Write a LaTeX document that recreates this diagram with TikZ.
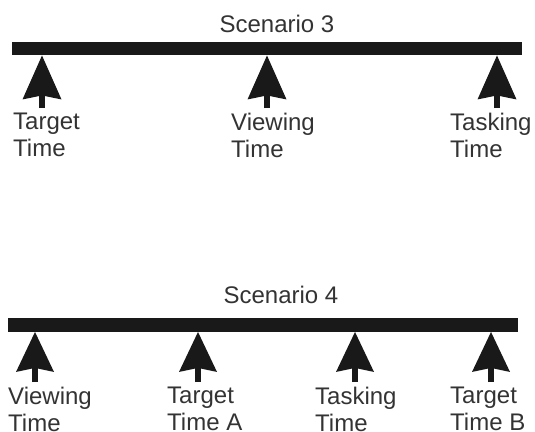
\documentclass[tikz,border=0pt]{standalone}
\usepackage{fontspec}
\setmainfont{Liberation Sans}
\begin{document}
\begin{tikzpicture}[x=1pt,y=-1pt,
  bar/.style={fill=black!90, draw=none, inner sep=0pt, minimum height=13.5pt},
  lbl/.style={anchor=north west, inner sep=0pt, align=left, text=black!80, font=\fontsize{24}{27}\selectfont},
  ttl/.style={anchor=base, inner sep=0pt, text=black!80, font=\fontsize{24}{27}\selectfont},
  stem/.style={draw=black!90, line width=6pt},
  head/.style={fill=black!90}]
\useasboundingbox (0,0) rectangle (535,431);
% Scenario 3
\node[bar, minimum width=510pt] (bar3) at (267,48.5) {};
\node[ttl] (t3) at (277,32) {Scenario 3};
\foreach \n/\x in {s1/42,s2/267,s3/497}{
  \coordinate (\n) at (\x,108);
  \coordinate (\n tip) at (\n |- bar3.south);
  \draw[stem] (\n) -- ([yshift=-30pt]\n tip);
  \fill[head] (\n tip) -- ++(19.5,44) -- ++(-19.5,-4) -- ++(-19.5,4) -- cycle;
}
\node[lbl] (l1) at (13,113) {Target\\Time};
\node[lbl] (l2) at (231,113) {Viewing\\Time};
\node[lbl] (l3) at (450,113) {Tasking\\Time};
% Scenario 4
\node[bar, minimum width=510pt] (bar4) at (263,325) {};
\node[ttl] (t4) at (281,303) {Scenario 4};
\foreach \n/\x in {u1/35,u2/198,u3/355,u4/491}{
  \coordinate (\n) at (\x,382);
  \coordinate (\n tip) at (\n |- bar4.south);
  \draw[stem] (\n) -- ([yshift=-30pt]\n tip);
  \fill[head] (\n tip) -- ++(19,40) -- ++(-19,-4) -- ++(-19,4) -- cycle;
}
\node[lbl] (m1) at (8,387) {Viewing\\Time};
\node[lbl] (m2) at (167,387) {Target\\Time A};
\node[lbl] (m3) at (315,387) {Tasking\\Time};
\node[lbl] (m4) at (450,387) {Target\\Time B};
\end{tikzpicture}
\end{document}
